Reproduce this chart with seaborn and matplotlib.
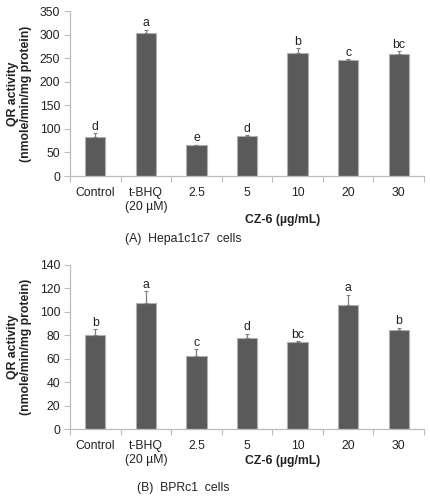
import numpy as np
import pandas as pd
import matplotlib
matplotlib.use("Agg")
import matplotlib.pyplot as plt
import seaborn as sns

# data
groups = ["Control", "t-BHQ\n(20 \u00b5M)", "2.5", "5", "10", "20", "30"]

hepa_mean = [83, 303, 65, 85, 262, 247, 258]
hepa_err = [8, 7, 1, 2, 9, 0.5, 7]
hepa_letters = ["d", "a", "e", "d", "b", "c", "bc"]

bprc_mean = [79.8, 107, 62.3, 77.8, 74.3, 105.3, 84.6]
bprc_err = [5, 10.5, 5.5, 3.3, 0.5, 9, 1.8]
bprc_letters = ["b", "a", "c", "d", "bc", "a", "b"]

sns.set_style("white")
plt.rcParams["font.family"] = ["Liberation Sans", "DejaVu Sans"]

bar_col = "#5a5a5a"
edge_col = "#b0b0b0"
spine_col = "#bdbdbd"
txt_col = "#222222"
fs = 8.8


def draw(ax, means, errs, letters, ymax, ystep, xlabel_y):
    df = pd.DataFrame({"group": groups, "value": means})
    sns.barplot(data=df, x="group", y="value", ax=ax, color=bar_col,
                width=0.4, edgecolor=edge_col, linewidth=0.8, saturation=1,
                errorbar=None)
    xs = [p.get_x() + p.get_width() / 2 for p in ax.patches]
    ax.errorbar(xs, means, yerr=[np.zeros(len(errs)), errs], fmt="none",
                ecolor="#808080", elinewidth=0.9, capsize=1.5, capthick=0.8)
    for x, m, e, t in zip(xs, means, errs, letters):
        ax.annotate(t, (x, m + e), xytext=(0, 0.3), textcoords="offset points",
                    ha="center", va="bottom", fontsize=fs, color=txt_col)
    ax.set_ylim(0, ymax)
    ax.set_yticks(np.arange(0, ymax + 1, ystep))
    ax.set_xlim(-0.5, len(groups) - 0.5)
    ax.set_xticks(np.arange(-0.5, len(groups)), minor=True)
    ax.tick_params(axis="x", which="major", length=0, pad=8,
                   labelsize=fs, colors=txt_col)
    ax.tick_params(axis="x", which="minor", length=4, width=0.8,
                   color=spine_col, direction="out", bottom=True)
    ax.tick_params(axis="y", length=4, width=0.8, color=spine_col,
                   direction="out", left=True, labelsize=fs,
                   labelcolor=txt_col, pad=3)
    for s in ["top", "right"]:
        ax.spines[s].set_visible(False)
    for s in ["left", "bottom"]:
        ax.spines[s].set_color(spine_col)
        ax.spines[s].set_linewidth(0.9)
    ax.set_ylabel("QR activity\n(nmole/min/mg protein)", fontsize=fs,
                  fontweight="bold", color=txt_col, linespacing=1.1)
    ax.yaxis.set_label_coords(-0.108, 0.5)
    ax.set_xlabel("")
    ax.text(0.6, xlabel_y, "CZ-6 (\u00b5g/mL)", transform=ax.transAxes,
            ha="center", va="center", fontsize=fs, fontweight="bold",
            color=txt_col)


fig = plt.figure(figsize=(4.31, 5.01), dpi=100)
ax1 = fig.add_axes([0.1624, 0.6487, 0.8213, 0.3293])
ax2 = fig.add_axes([0.1624, 0.1437, 0.8213, 0.3280])

draw(ax1, hepa_mean, hepa_err, hepa_letters, 350, 50, -0.267)
draw(ax2, bprc_mean, bprc_err, bprc_letters, 140, 20, -0.193)

fig.text(0.425, 0.523, "(A)  Hepa1c1c7  cells", ha="center", va="center",
         fontsize=fs, color=txt_col)
fig.text(0.425, 0.026, "(B)  BPRc1  cells", ha="center", va="center",
         fontsize=fs, color=txt_col)

fig.savefig("out.png", dpi=100)
